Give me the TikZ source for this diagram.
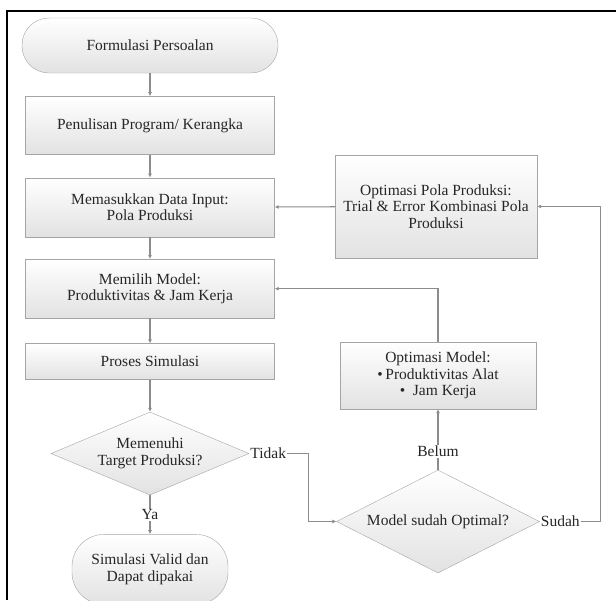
\documentclass[tikz,border=0pt]{standalone}
\usepackage{fontspec}
\setmainfont{Liberation Serif}
\usetikzlibrary{arrows.meta,shapes.geometric,positioning}
\definecolor{lineColor}{RGB}{140,140,140}
\definecolor{borderColor}{RGB}{165,165,165}
\definecolor{shadeColor}{RGB}{226,226,226}
\newcommand\flowfont{\fontsize{15.5}{16.5}\selectfont}
\tikzset{process/.style={draw=borderColor, top color=white, bottom color=shadeColor, text=black!85, align=center, minimum width=249pt, minimum height=59pt, inner sep=2pt, font=\flowfont}}
\tikzset{terminal/.style={process, rounded corners=27pt}}
\tikzset{decision/.style={process, diamond, aspect=2.2, inner sep=0pt}}
\tikzset{answer/.style={fill=white, inner sep=1pt, text=black!85, font=\flowfont}}
\tikzset{flow/.style={draw=lineColor, line width=1.1pt, -{Latex[length=4pt,width=4pt]}}}

\begin{document}
\begin{tikzpicture}[x=1pt, y=-1pt, node distance=23pt]
\useasboundingbox (0,0) rectangle (616,600);
% Frame
\draw [line width=2pt] (7,600) -- (7,11) -- (616,11);

% Nodes
    \node (Formulasi) [terminal, minimum width=256pt, minimum height=55pt] at (150,45.5) {Formulasi Persoalan};

    \node (Penulisan) [process, minimum height=58pt, below=of Formulasi] {Penulisan Program/ Kerangka};

    \node (Memasukkan) [process, below=of Penulisan] {Memasukkan Data Input:\\ Pola Produksi};

    \node (Memilih) [process, below=22pt of Memasukkan] {Memilih Model:\\ Produktivitas \& Jam Kerja};

    \node (Proses) [process, minimum height=36pt, below=25pt of Memilih] {Proses Simulasi};

    \node (Target) [decision, minimum width=198pt, minimum height=83pt, below=32pt of Proses] {Memenuhi\\ Target Produksi?};

    \node (Valid) [terminal, minimum width=156pt, minimum height=70pt, rounded corners=32pt, below=39pt of Target] {Simulasi Valid dan\\ Dapat dipakai};


    \node (OptPola) [process, minimum width=202pt, minimum height=103pt] at (436,206.5) {Optimasi Pola Produksi:\\ Trial \& Error Kombinasi Pola\\ Produksi};

    \node (OptModel) [process, minimum width=196pt, minimum height=67pt] at (438,375.5) {Optimasi Model:\\ \textbullet\,Produktivitas Alat\\ \textbullet\ \ Jam Kerja};

    \node (Optimal) [decision, minimum width=203pt, minimum height=103pt] at (438,521.5) {Model sudah Optimal?};

    \node (TidakLbl) [answer, anchor=west] at (Target.east) {Tidak};
    \node (SudahLbl) [answer, anchor=west] at (Optimal.east) {Sudah};

% Connectors
\begin{scope}[flow]

    \draw [flow] (Formulasi) -- (Penulisan);
    \draw [flow] (Penulisan) -- (Memasukkan);
    \draw [flow] (Memasukkan) -- (Memilih);
    \draw [flow] (Memilih) -- (Proses);
    \draw [flow] (Proses) -- (Target);
    \draw [flow] (Target) -- node[answer] {Ya} (Valid);

    \draw [flow] (TidakLbl.east) -- ++(21,0) |- (Optimal.west);
    \draw [flow] (Optimal.north) -- node[answer, pos=0.3] {Belum} (OptModel.south);
    \draw [flow] (SudahLbl.east) -- ++(20,0) |- (OptPola.east);

    \draw [flow] (OptPola) -- (Memasukkan);
    \draw [flow] (OptModel.north) |- (Memilih.east);

\end{scope}

\end{tikzpicture}
\end{document}
